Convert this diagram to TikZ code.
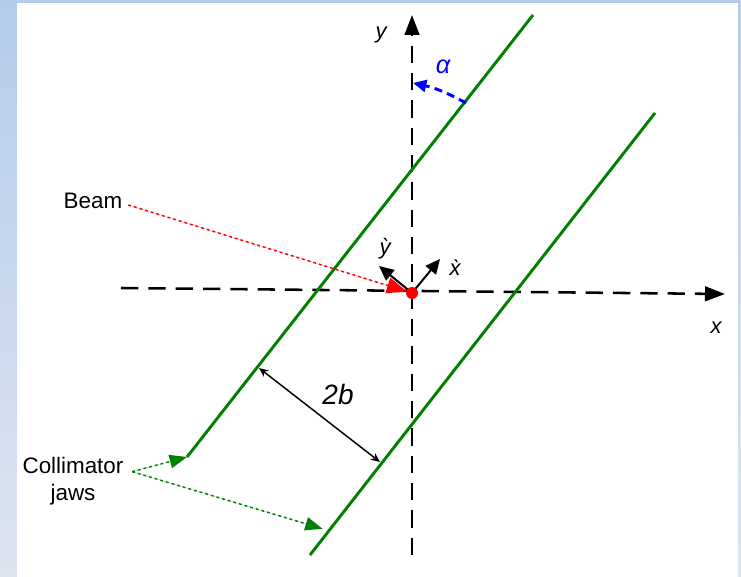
\documentclass[tikz,border=0pt]{standalone}
\usepackage{fontspec}
\setmainfont{Liberation Sans}
\usetikzlibrary{arrows.meta, positioning, calc}
\definecolor{cgreen}{HTML}{008000}
\definecolor{cblue}{HTML}{0000FF}
\definecolor{cred}{HTML}{FF0000}
\definecolor{cframetop}{HTML}{B4CCEB}
\definecolor{cframebot}{HTML}{DDE4F0}
\tikzset{
  every picture/.style={font=\fontsize{16.8}{20}\selectfont},
  axisline/.style={draw=black, line width=1.9pt, dash pattern=on 13pt off 7.5pt, -{Triangle[length=15pt, width=11pt]}},
  jaw/.style={draw=cgreen, line width=2.2pt},
  pointer/.style={line width=1.1pt, dash pattern=on 2.2pt off 2.2pt, -{Triangle[length=13pt, width=10pt]}},
  tag/.style={font=\fontsize{16.8}{20}\selectfont, align=center},
  sym/.style={font=\itshape\fontsize{16.5}{19}\selectfont, inner sep=1pt},
}

\begin{document}
\begin{tikzpicture}[x=0.75pt, y=-0.75pt]
  % frame
  \shade[top color=cframetop, bottom color=cframebot] (0,0) rectangle (741,577);
  \fill[white] (17,3) rectangle (738,577);
  \useasboundingbox (0,0) rectangle (741,577);
  % axes
  \coordinate (O) at (412,293);
  \coordinate (xs) at (121,288);
  \coordinate (xe) at (725,294);
  \coordinate (ys) at (412,555);
  \coordinate (ye) at (412,15);
  \draw[axisline] (xs) -- (xe);
  \draw[axisline] (ys) -- (ye);
  \node[sym] (xl) at (716,328) {x};
  \node[sym] (yl) at (381,35) {y};
  % collimator jaws
  \coordinate (j1a) at (187,457);
  \coordinate (j1b) at (533,15);
  \coordinate (j2a) at (310,555);
  \coordinate (j2b) at (655,113);
  \draw[jaw] (j1a) -- (j1b);
  \draw[jaw] (j2a) -- (j2b);
  % aperture 2b
  \coordinate (w1) at (259,368);
  \coordinate (w2) at (380,462);
  \draw[line width=1.1pt, {Stealth[length=7pt, width=6pt]}-{Stealth[length=7pt, width=6pt]}] (w1) -- (w2);
  \node[sym, font=\itshape\fontsize{21}{24}\selectfont] (wl) at (338,394) {2b};
  % rotated frame
  \coordinate (xp) at (440,259);
  \coordinate (yp) at (379,266);
  \draw[line width=1.5pt, -{Triangle[length=11pt, width=10pt]}] (O) -- (xp);
  \draw[line width=1.5pt, -{Triangle[length=11pt, width=10pt]}] (O) -- (yp);
  \node[sym] (xpl) at (455,268) {\`x};
  \node[sym] (ypl) at (385,249) {\`y};
  % angle alpha
  \coordinate (a1) at (466,103);
  \coordinate (a2) at (413,83);
  \draw[cblue, line width=2.2pt, dash pattern=on 6pt off 4pt, -{Triangle[length=10pt, width=9pt]}] (a1) to[bend right=8] (a2);
  \node[sym, text=cblue, font=\itshape\fontsize{19}{22}\selectfont] (al) at (443,67) {α};
  % beam
  \node[tag] (beam) at (93,201) {Beam};
  \draw[pointer, draw=cred, fill=cred, shorten >=4pt, -{Triangle[length=15pt, width=12pt]}] ([xshift=1pt, yshift=-3pt]beam.east) -- (O);
  \node[circle, fill=cred, minimum size=9pt, inner sep=0pt] (dot) at (O) {};
  % labels for the jaws
  \node[tag] (coll) at (73,481) {Collimator\\jaws};
  \draw[pointer, draw=cgreen, fill=cgreen] ([xshift=3pt, yshift=7pt]coll.east) -- (j1a);
  \draw[pointer, draw=cgreen, fill=cgreen, shorten >=5pt] ([xshift=3pt, yshift=7pt]coll.east) -- ($(j2a)!0.055!(j2b)$);
\end{tikzpicture}
\end{document}
